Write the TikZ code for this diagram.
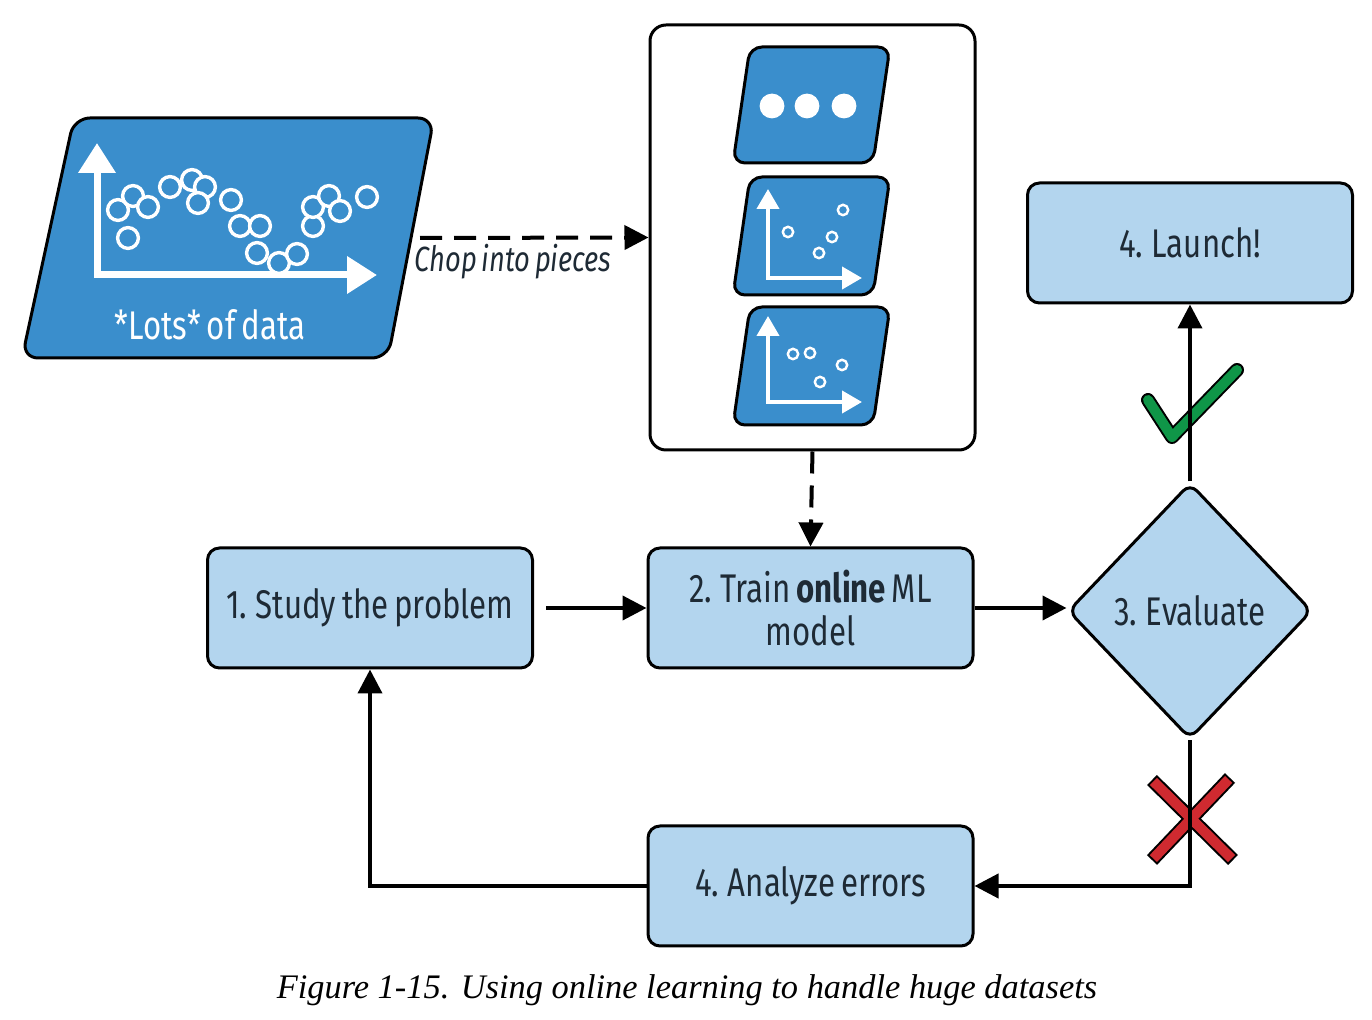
\documentclass[tikz,border=0pt]{standalone}
\usepackage{fontspec}
\setmainfont{Liberation Serif}
\newfontfamily\dfont{Fira Sans}[FakeStretch=0.78, WordSpace=0.7]
\usetikzlibrary{arrows.meta,shapes.geometric}
\definecolor{dblue}{HTML}{3A8ECC}
\definecolor{lblue}{HTML}{B3D5EE}
\definecolor{okgreen}{HTML}{0F9648}
\definecolor{nored}{HTML}{CF2A30}
\definecolor{txt}{HTML}{1E2A35}
\tikzset{
  flowbox/.style={draw=black, line width=1.5pt, fill=lblue, rounded corners=6pt,
    minimum width=162.5pt, minimum height=60pt, font=\dfont\fontsize{20}{21.5}\selectfont,
    text=txt, align=center, inner sep=0pt},
  arr/.style={line width=2pt, -{Triangle[length=12pt,width=12pt]}},
  darr/.style={arr, dash pattern=on 11pt off 6pt},
  piecebox/.style={draw=black, line width=1.5pt, fill=dblue, rounded corners=6pt},
  bigaxis/.style={white, line width=3.5pt, {Triangle[length=15pt,width=18pt]}-{Triangle[length=15pt,width=18pt]}},
  smallaxis/.style={white, line width=2pt, {Triangle[length=10pt,width=11pt]}-{Triangle[length=10pt,width=11pt]}},
  bigdot/.style={draw=white, line width=1.7pt, fill=dblue},
  smalldot/.style={draw=white, line width=1.2pt, fill=dblue},
}
\begin{document}
\begin{tikzpicture}[x=0.5pt,y=-0.5pt]
\useasboundingbox (0,0) rectangle (1372,1020);

% big data parallelogram
\draw[piecebox, rounded corners=8pt] (74,118) -- (434,118) -- (388,358) -- (22,358) -- cycle;
\draw[bigaxis] (97,143) -- (97,275) -- (377,275);
\foreach \x/\y in {118/210,133/196,148/207,128/238,170/187,192/180,205/187,198/203,231/200,240/226,260/226,257/253,279/263,297/254,313/226,313/207,329/196,340/211,367/197}
  \draw[bigdot] (\x,\y) circle[radius=5.2pt];
\node[font=\dfont\fontsize{20}{22}\selectfont, text=white] (lots) at (210,325) {*Lots* of data};
\coordinate (dataR) at (420,238);

% container with pieces
\node[draw=black, line width=1.5pt, fill=white, rounded corners=8pt, minimum width=162.5pt, minimum height=212.5pt, inner sep=0pt] (pieces) at (812.5,237.5) {};
\draw[piecebox] (750,47) -- (890,47) -- (873,163) -- (733,163) -- cycle;
\foreach \x in {772,807,844} \fill[white] (\x,106) circle[radius=6.2pt];
\draw[piecebox] (750,177) -- (890,177) -- (873,295) -- (733,295) -- cycle;
\draw[smallaxis] (768,189) -- (768,278) -- (862,278);
\foreach \x/\y in {788/232,843/210,832/237,819/253} \draw[smalldot] (\x,\y) circle[radius=2.6pt];
\draw[piecebox] (750,307) -- (890,307) -- (873,425) -- (733,425) -- cycle;
\draw[smallaxis] (768,316) -- (768,402) -- (862,402);
\foreach \x/\y in {793/354,810/353,842/365,820/382} \draw[smalldot] (\x,\y) circle[radius=2.6pt];

% flow nodes
\node[flowbox] (study) at (370,608) {1. Study the problem};
\node[flowbox] (train) at (810.5,608) {2. Train \textbf{online} ML\\model};
\node[diamond, draw=black, line width=1.5pt, fill=lblue, rounded corners=5pt, minimum width=122pt, minimum height=128pt, inner sep=0pt, font=\dfont\fontsize{20}{21.5}\selectfont, text=txt] (eval) at (1190,611) {3. Evaluate};
\node[flowbox] (launch) at (1190,243) {4. Launch!};
\node[flowbox] (analyze) at (810.5,886) {4. Analyze errors};

% check mark and cross
\draw[black, line width=7pt, line cap=round, line join=round] (1148,400) -- (1172,437) -- (1237,370);
\draw[okgreen, line width=5pt, line cap=round, line join=round] (1148,400) -- (1172,437) -- (1237,370);
\draw[black, line width=7pt] (1152,780) -- (1233,860);
\draw[black, line width=7pt] (1230,778) -- (1152,860);
\draw[nored, line width=5pt, shorten <=1pt, shorten >=1pt] (1152,780) -- (1233,860);
\draw[nored, line width=5pt, shorten <=1pt, shorten >=1pt] (1230,778) -- (1152,860);

% connectors
\draw[darr] (dataR) -- (pieces.west);
\node[font=\dfont\itshape\fontsize{17.5}{20}\selectfont, text=txt] (chop) at (513,262) {Chop into pieces};
\draw[darr] (pieces.south) -- (train.north);
\draw[arr, shorten <=6pt] (study.east) -- (train.west);
\draw[arr] (train.east) -- (eval.west |- train.east);
\draw[arr] (eval.north) -- (launch.south);
\draw[arr] (eval.south) |- (analyze.east);
\draw[arr] (analyze.west) -| (study.south);

% caption
\node[font=\itshape\fontsize{17.2}{19}\selectfont] (cap) at (687,990) {Figure 1-15. Using online learning to handle huge datasets};
\end{tikzpicture}
\end{document}
